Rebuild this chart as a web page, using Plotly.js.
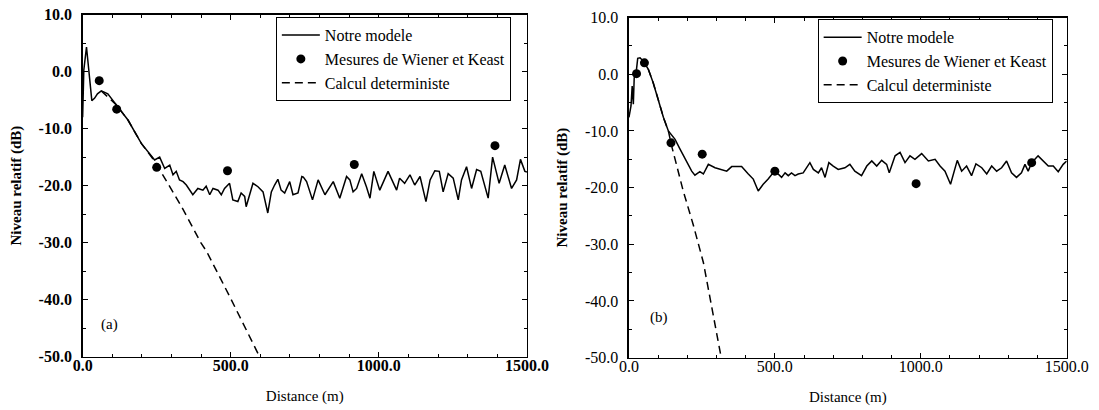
<!DOCTYPE html>
<html>
<head>
<meta charset="utf-8">
<script src="https://cdn.plot.ly/plotly-3.0.1.min.js"></script>
<style>html,body{margin:0;padding:0;background:#fff;}#chart{width:1099px;height:410px;}</style>
</head>
<body>
<div id="chart"></div>
<script>
// ---- Panel (a) ----
const modelAX = [0,4,13,20,31,40,50,63,85,113,153,198,243,260,277,294,305,316,327,339,350,372,389,406,417,429,440,457,468,479,496,507,524,535,547,552,564,575,592,609,625,637,648,659,670,682,699,710,727,740,745,756,776,795,818,846,868,891,902,913,925,942,958,970,983,1003,1031,1060,1070,1087,1105,1121,1139,1159,1173,1189,1204,1217,1234,1251,1268,1279,1296,1313,1330,1344,1369,1384,1406,1425,1448,1465,1478,1493,1500];
const modelAY = [-8.0,0.3,4.3,0.3,-5.1,-4.7,-3.9,-3.4,-3.9,-5.8,-8.5,-12.6,-15.5,-15.0,-17.0,-16.4,-18.1,-17.5,-19.0,-19.3,-19.9,-21.6,-20.5,-20.8,-20.1,-21.6,-20.5,-20.8,-21.6,-20.5,-19.6,-22.5,-22.8,-21.3,-21.9,-23.7,-21.3,-19.6,-20.2,-21.1,-24.8,-21.1,-19.9,-18.9,-20.8,-21.3,-19.3,-21.6,-21.3,-18.4,-18.5,-19.3,-22.5,-19.0,-21.6,-19.3,-22.2,-18.4,-19.0,-21.1,-20.5,-17.9,-20.2,-22.2,-17.5,-20.8,-17.5,-20.8,-18.7,-19.6,-18.1,-19.9,-18.4,-22.8,-19.0,-17.4,-17.5,-21.1,-17.9,-18.7,-22.5,-19.0,-16.7,-20.5,-17.2,-17.5,-22.2,-15.0,-19.6,-16.4,-20.5,-19.0,-15.4,-17.5,-17.6];
const measAX = [56,115,250,489,917,1392];
const measAY = [-1.6,-6.6,-16.8,-17.4,-16.3,-13.0];
const detAX = [63,113,153,198,243,271,334,400,418,497,553,593,605];
const detAY = [-3.4,-5.8,-8.5,-12.6,-15.7,-18.2,-23.7,-30.1,-31.5,-39.5,-45.3,-49.5,-50.8];

// ---- Panel (b) ----
const modelBX = [0,7,11,15,18,24,30,38,49,66,83,100,118,135,158,175,198,215,226,243,255,272,295,318,335,352,386,409,426,443,460,477,494,511,523,535,546,557,569,580,597,620,632,649,660,672,685,700,717,740,757,774,797,815,832,849,866,883,892,912,929,946,963,980,1003,1026,1049,1066,1083,1102,1117,1125,1140,1157,1174,1189,1209,1226,1243,1260,1277,1294,1311,1328,1345,1357,1368,1380,1402,1420,1437,1454,1471,1488,1500];
const modelBY = [-7.6,-5.6,-2.1,-5.3,-0.6,0,2.8,2.9,2.3,0.9,-1.5,-4.4,-7.6,-10.0,-11.5,-13.2,-15.3,-17.1,-17.8,-17.2,-17.6,-15.9,-16.5,-16.8,-17.1,-16.3,-16.3,-17.6,-18.5,-20.6,-19.4,-18.5,-17.4,-17.6,-18.2,-17.4,-17.9,-17.4,-17.9,-17.6,-17.4,-15.6,-16.8,-17.4,-16.5,-18.2,-15.6,-16.2,-16.8,-16.5,-15.9,-17.1,-17.9,-16.2,-15.3,-16.2,-15.2,-15.9,-17.4,-14.4,-13.8,-15.6,-14.4,-15.0,-14.0,-15.3,-15.0,-16.2,-17.1,-19.4,-16.8,-15.2,-17.1,-16.2,-17.9,-15.8,-16.5,-17.6,-16.2,-17.1,-16.5,-15.3,-17.4,-18.2,-17.4,-15.9,-17.1,-15.6,-14.4,-15.3,-16.2,-16.2,-17.2,-15.9,-15.3];
const measBX = [26,53,144,251,500,984,1380];
const measBY = [0.1,2.0,-12.1,-14.1,-17.1,-19.3,-15.6];
const detBX = [66,83,100,118,135,146,186,220,255,278,300,318];
const detBY = [0.9,-1.5,-4.4,-7.6,-10.0,-12.6,-20.6,-26.5,-33.2,-39.4,-45.0,-50.5];

// ---- Labels ----
const seriesNames = ['Notre modele', 'Mesures de Wiener et Keast', 'Calcul deterministe'];
const xTickVals = [0, 500, 1000, 1500];
const xTickText = ['0.0', '500.0', '1000.0', '1500.0'];
const yTickVals = [10, 0, -10, -20, -30, -40, -50];
const yTickText = ['10.0', '0.0', '-10.0', '-20.0', '-30.0', '-40.0', '-50.0'];
const xTitle = 'Distance (m)';
const yTitle = 'Niveau relatif (dB)';
const panelLabels = ['(a)', '(b)'];

const FONT = 'Liberation Serif';

function traces(mx, my, px, py, dx, dy, xa, ya, lg) {
  return [
    {x: mx, y: my, xaxis: xa, yaxis: ya, type: 'scatter', mode: 'lines', name: seriesNames[0],
     line: {color: '#000', width: 1.5}, legend: lg},
    {x: px, y: py, xaxis: xa, yaxis: ya, type: 'scatter', mode: 'markers', name: seriesNames[1],
     marker: {color: '#000', size: 9, symbol: 'circle'}, legend: lg},
    {x: dx, y: dy, xaxis: xa, yaxis: ya, type: 'scatter', mode: 'lines', name: seriesNames[2],
     line: {color: '#000', width: 1.5, dash: '8px,5px'}, legend: lg}
  ];
}

const data = [].concat(
  traces(modelAX, modelAY, measAX, measAY, detAX, detAY, 'x', 'y', 'legend'),
  traces(modelBX, modelBY, measBX, measBY, detBX, detBY, 'x2', 'y2', 'legend2')
);

function xaxis(domain, anchor, bold) {
  return {
    domain: domain, anchor: anchor, range: [0, 1500], tickvals: xTickVals, ticktext: xTickText,
    ticks: 'inside', ticklen: 5, tickwidth: 1, tickcolor: '#000',
    minor: {tickvals: [100,200,300,400,600,700,800,900,1100,1200,1300,1400], ticks: 'inside', ticklen: 3, tickcolor: '#000', tickwidth: 1},
    showline: true, linecolor: '#000', linewidth: 1.5, mirror: 'ticks',
    showgrid: false, zeroline: false, automargin: false, ticklabelstandoff: -6,
    tickfont: {family: FONT, size: 16, color: '#000', weight: bold ? 'bold' : 'normal'},
    title: {text: xTitle, font: {family: FONT, size: 15, color: '#000'}, standoff: 17}
  };
}
function yaxis(domain, anchor, bold) {
  return {
    domain: domain, anchor: anchor, range: [-50, 10], tickvals: yTickVals, ticktext: yTickText,
    ticks: 'inside', ticklen: 5, tickwidth: 1, tickcolor: '#000',
    minor: {tickvals: [5,-5,-15,-25,-35,-45], ticks: 'inside', ticklen: 3, tickcolor: '#000', tickwidth: 1},
    showline: true, linecolor: '#000', linewidth: 1.5, mirror: 'ticks',
    showgrid: false, zeroline: false, automargin: false, ticklabelstandoff: 6,
    tickfont: {family: FONT, size: 16, color: '#000', weight: bold ? 'bold' : 'normal'},
    title: {text: yTitle, font: {family: FONT, size: 15, color: '#000', weight: 'bold'}, standoff: 13}
  };
}

const legendStyle = (x, y) => ({
  x: x, y: y, xanchor: 'left', yanchor: 'top', xref: 'paper', yref: 'paper',
  bgcolor: '#fff', bordercolor: '#000', borderwidth: 1,
  font: {family: FONT, size: 16, color: '#000'}, itemwidth: 38, tracegroupgap: 0
});

const layout = {
  width: 1099, height: 410,
  margin: {l: 0, r: 0, t: 0, b: 0},
  font: {family: FONT, color: '#000'},
  paper_bgcolor: '#fff', plot_bgcolor: '#fff',
  showlegend: true,
  xaxis: xaxis([0.0752, 0.4795], 'y', true),
  yaxis: yaxis([0.130, 0.9646], 'x', true),
  xaxis2: xaxis([0.5723, 0.9706], 'y2', false),
  yaxis2: yaxis([0.1276, 0.9573], 'x2', false),
  legend: legendStyle(0.251, 0.958),
  legend2: legendStyle(0.744, 0.953),
  annotations: [
    {xref: 'x', yref: 'y', x: 89, y: -44.4, text: panelLabels[0], showarrow: false, font: {family: FONT, size: 15, color: '#000'}},
    {xref: 'x2', yref: 'y2', x: 103, y: -42.9, text: panelLabels[1], showarrow: false, font: {family: FONT, size: 15, color: '#000'}}
  ]
};

Plotly.newPlot('chart', data, layout, {staticPlot: true, displayModeBar: false});
</script>
</body>
</html>
